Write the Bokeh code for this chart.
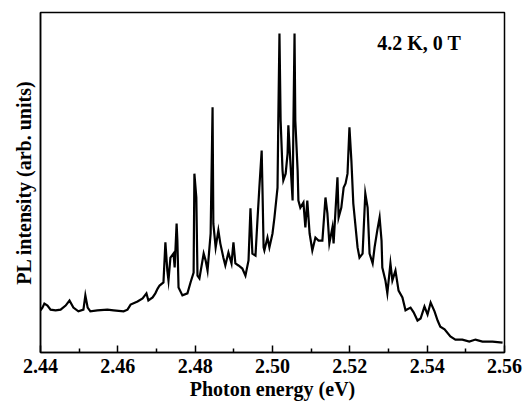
from bokeh.plotting import figure
from bokeh.models import FixedTicker, Label, Range1d, NumeralTickFormatter
from bokeh.embed import file_html
from bokeh.resources import INLINE

# Photoluminescence spectrum at 4.2 K, zero field
energy_ev = [
    2.4400, 2.4405, 2.4410, 2.4418, 2.4426, 2.4439, 2.4452, 2.4465, 2.4475, 2.4485,
    2.4498, 2.4511, 2.4516, 2.4522, 2.4529, 2.4547, 2.4573, 2.4589, 2.4615, 2.4625,
    2.4633, 2.4651, 2.4664, 2.4674, 2.4679, 2.4690, 2.4697, 2.4703, 2.4708, 2.4718,
    2.4723, 2.4728, 2.4731, 2.4736, 2.4744, 2.4747, 2.4752, 2.4754, 2.4757, 2.4767,
    2.4780, 2.4788, 2.4796, 2.4798, 2.4803, 2.4806, 2.4811, 2.4822, 2.4827, 2.4832,
    2.4840, 2.4845, 2.4847, 2.4853, 2.4860, 2.4865, 2.4873, 2.4878, 2.4886, 2.4894,
    2.4899, 2.4904, 2.4912, 2.4922, 2.4930, 2.4938, 2.4943, 2.4948, 2.4956, 2.4961,
    2.4966, 2.4972, 2.4974, 2.4977, 2.4979, 2.4987, 2.4992, 2.5000, 2.5005, 2.5013,
    2.5015, 2.5018, 2.5021, 2.5026, 2.5028, 2.5034, 2.5039, 2.5041, 2.5046, 2.5052,
    2.5054, 2.5057, 2.5059, 2.5065, 2.5067, 2.5072, 2.5080, 2.5085, 2.5090, 2.5096,
    2.5103, 2.5111, 2.5119, 2.5129, 2.5137, 2.5142, 2.5147, 2.5155, 2.5158, 2.5168,
    2.5171, 2.5178, 2.5184, 2.5189, 2.5194, 2.5199, 2.5204, 2.5209, 2.5220, 2.5225,
    2.5233, 2.5240, 2.5246, 2.5251, 2.5259, 2.5264, 2.5271, 2.5277, 2.5282, 2.5284,
    2.5292, 2.5297, 2.5305, 2.5310, 2.5318, 2.5326, 2.5336, 2.5344, 2.5357, 2.5365,
    2.5375, 2.5383, 2.5393, 2.5401, 2.5409, 2.5419, 2.5427, 2.5434, 2.5445, 2.5460,
    2.5473, 2.5491, 2.5509, 2.5525, 2.5543, 2.5569, 2.5595,
]

pl_intensity = [
    12.4, 13.2, 14.4, 13.8, 12.6, 12.4, 12.6, 13.8, 15.3, 13.2,
    12.1, 12.6, 16.8, 13.2, 12.1, 12.4, 12.6, 12.4, 12.1, 12.6,
    14.1, 15.0, 15.9, 17.4, 15.3, 16.2, 17.4, 18.8, 19.7, 20.6,
    32.4, 24.1, 21.2, 27.9, 29.1, 25.0, 37.9, 32.9, 19.1, 16.8,
    17.4, 20.6, 23.5, 52.6, 45.6, 22.6, 21.8, 29.1, 27.1, 24.1,
    35.0, 72.1, 37.9, 30.9, 35.9, 32.1, 27.9, 25.6, 29.4, 26.2,
    32.4, 26.2, 25.6, 24.7, 22.6, 27.1, 42.4, 29.1, 28.5, 38.8,
    48.5, 59.4, 48.5, 30.9, 30.0, 33.8, 30.9, 35.0, 39.7, 48.5,
    68.2, 93.8, 68.2, 53.5, 50.6, 52.6, 58.5, 66.8, 56.5, 44.7,
    66.2, 93.8, 68.2, 53.5, 44.7, 42.6, 44.1, 36.8, 44.7, 35.0,
    30.0, 33.8, 32.9, 32.9, 45.6, 40.9, 32.1, 36.8, 32.1, 51.5,
    39.7, 42.6, 48.5, 49.7, 52.6, 66.2, 56.5, 43.8, 30.9, 27.9,
    29.1, 46.8, 42.6, 29.1, 26.2, 30.9, 35.9, 39.7, 32.9, 25.0,
    21.2, 17.4, 26.2, 21.2, 24.1, 18.2, 16.2, 12.4, 13.2, 11.8,
    9.4, 10.0, 13.5, 11.2, 14.7, 12.1, 9.4, 7.6, 6.8, 4.7,
    3.8, 3.8, 3.2, 3.8, 3.2, 3.2, 2.9,
]

major_ticks = [2.44, 2.46, 2.48, 2.50, 2.52, 2.54, 2.56]
minor_ticks = [2.45, 2.47, 2.49, 2.51, 2.53, 2.55]

FONT = "Liberation Serif"

p = figure(
    width=524, height=408,
    x_range=Range1d(2.44, 2.56), y_range=Range1d(0, 100),
    output_backend="svg", toolbar_location=None,
    min_border_left=40, min_border_right=20,
    min_border_top=12, min_border_bottom=56,
)
p.background_fill_color = "white"
p.border_fill_color = "white"
p.outline_line_color = "black"
p.outline_line_width = 1.5
p.xgrid.visible = False
p.ygrid.visible = False

p.line(energy_ev, pl_intensity, line_color="black", line_width=2.2,
       line_join="miter")

# bottom axis: labelled majors, inward ticks
xa = p.xaxis[0]
xa.ticker = FixedTicker(ticks=major_ticks, minor_ticks=minor_ticks)
xa.formatter = NumeralTickFormatter(format="0.00")
xa.major_tick_in = 7
xa.major_tick_out = 0
xa.minor_tick_in = 4
xa.minor_tick_out = 0
xa.axis_line_width = 1.5
xa.major_tick_line_width = 1.5
xa.minor_tick_line_width = 1.5
xa.major_label_text_font = FONT
xa.major_label_text_font_style = "bold"
xa.major_label_text_font_size = "20px"
xa.major_label_text_color = "black"
xa.major_label_standoff = 6
xa.axis_label = "Photon energy (eV)"
xa.axis_label_text_font = FONT
xa.axis_label_text_font_style = "bold"
xa.axis_label_text_font_size = "20px"
xa.axis_label_text_color = "black"
xa.axis_label_standoff = 2

# left axis: label only, no ticks
ya = p.yaxis[0]
ya.ticker = FixedTicker(ticks=[])
ya.major_tick_in = 0
ya.major_tick_out = 0
ya.minor_tick_in = 0
ya.minor_tick_out = 0
ya.axis_line_width = 1.5
ya.axis_label = "PL intensity (arb. units)"
ya.axis_label_text_font = FONT
ya.axis_label_text_font_style = "bold"
ya.axis_label_text_font_size = "20px"
ya.axis_label_text_color = "black"
ya.axis_label_standoff = 6

p.add_layout(Label(
    x=2.5271, y=91, text="4.2 K, 0 T",
    text_font=FONT, text_font_style="bold", text_font_size="20px",
    text_color="black", text_baseline="middle", text_align="left",
))

open("out.html", "w").write(file_html(p, INLINE))
